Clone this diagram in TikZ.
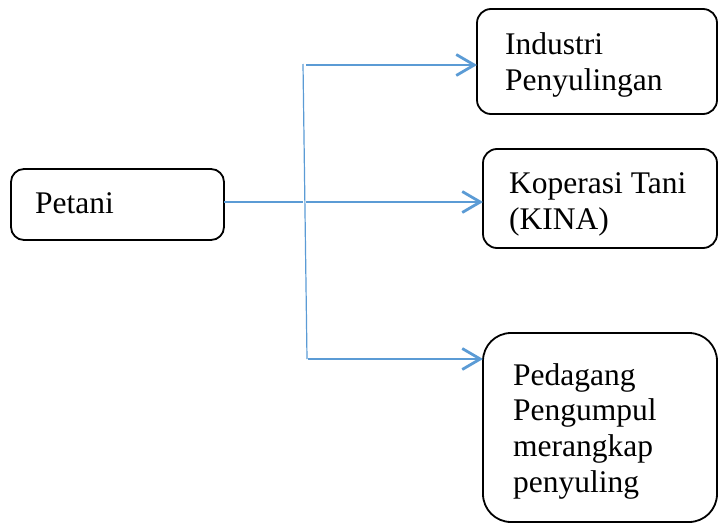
\documentclass[tikz,border=0pt]{standalone}
\usepackage{fontspec}
\setmainfont{Liberation Serif}
\usetikzlibrary{arrows.meta}
\definecolor{wblue}{RGB}{91,155,213}
\begin{document}
\begin{tikzpicture}[x=1pt,y=-1pt,
  box/.style={draw=black, line width=1.8pt, inner sep=0pt, outer sep=0pt, anchor=north west},
  lbl/.style={anchor=base west, inner sep=0pt, font=\fontsize{31.5}{35}\selectfont},
  thinline/.style={draw=wblue, line width=1.2pt},
  arr/.style={draw=wblue, line width=2.8pt, -{Straight Barb[length=18pt,width=21pt,line width=2.8pt]}}]
\useasboundingbox (0,0) rectangle (719,527);
% boxes
\node[box, rounded corners=13pt, minimum width=213pt, minimum height=71pt] (p) at (11,169) {};
\node[box, rounded corners=14pt, minimum width=240pt, minimum height=105pt] (b1) at (477,9) {};
\node[box, rounded corners=14pt, minimum width=234pt, minimum height=99pt] (b2) at (483,149) {};
\node[box, rounded corners=28pt, minimum width=234pt, minimum height=189pt] (b3) at (483,333) {};
% texts
\node[lbl] (tp) at (35,213) {Petani};
\node[lbl] (t1a) at (505,55) {Industri};
\node[lbl] (t1b) at (505,90) {Penyulingan};
\node[lbl] (t2a) at (509,193) {Koperasi Tani};
\node[lbl] (t2b) at (509,229) {(KINA)};
\node[lbl] (t3a) at (513,385) {Pedagang};
\node[lbl] (t3b) at (513,420) {Pengumpul};
\node[lbl] (t3c) at (513,456) {merangkap};
\node[lbl] (t3d) at (513,492) {penyuling};
% connectors
\coordinate (vt) at (303,64);
\coordinate (vb) at (307,359);
\coordinate (pj) at (303,202);
\coordinate (j1) at (306,65);
\coordinate (j2) at (306,202);
\coordinate (j3) at (308,359);
\draw[thinline] (vt) -- (vb);
\draw[thinline] (p.east |- pj) -- (pj);
\draw[arr] (j1) -- (j1 -| b1.west);
\draw[arr] (j2) -- (j2 -| b2.west);
\draw[arr] (j3) -- (j3 -| b3.west);
\end{tikzpicture}
\end{document}
